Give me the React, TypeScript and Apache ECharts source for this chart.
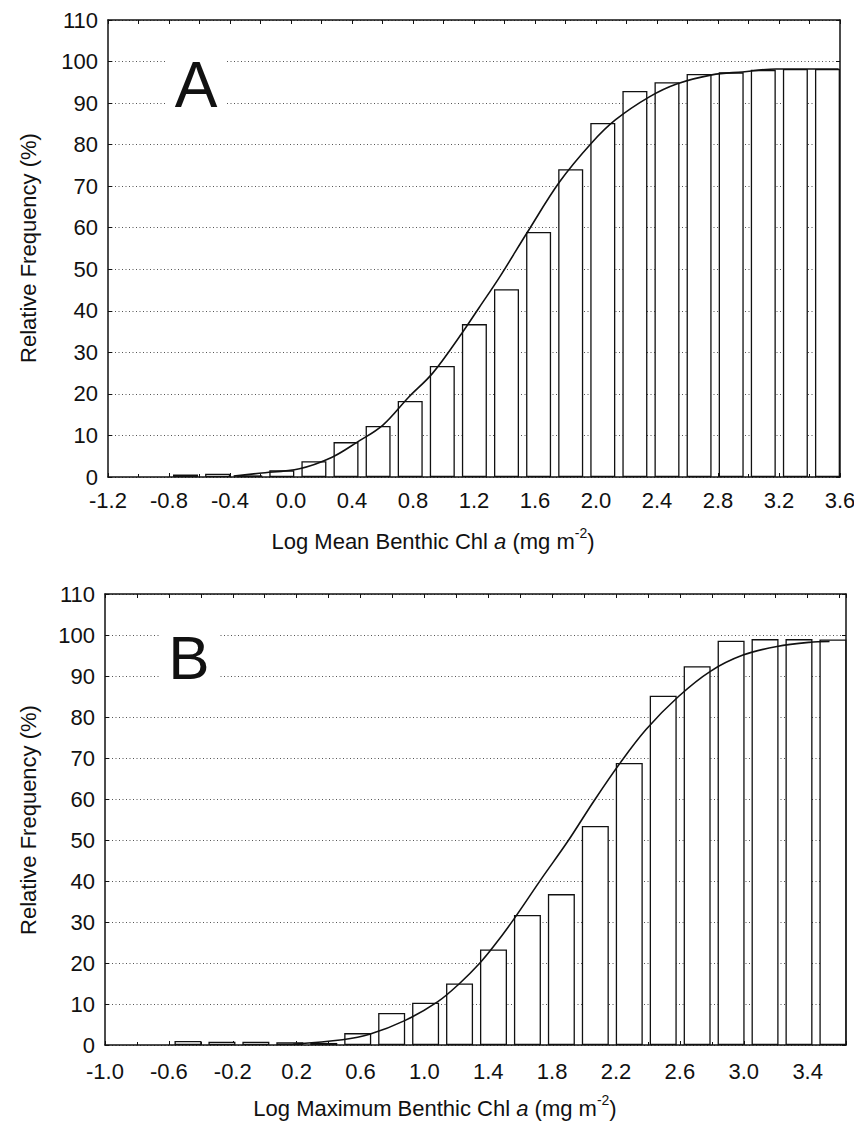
import React, { useEffect, useRef } from "react";
import * as echarts from "echarts";

// ---------- Panel A: Log Mean Benthic Chl a ----------
const meanBins = [-0.6, -0.4, -0.2, 0.0, 0.2, 0.4, 0.6, 0.8, 1.0, 1.2, 1.4, 1.6, 1.8, 2.0, 2.2, 2.4, 2.6, 2.8, 3.0, 3.2, 3.4];
const meanFreq = [0.6, 0.8, 0.4, 1.6, 3.8, 8.4, 12.3, 18.3, 26.7, 36.8, 45.2, 59.0, 74.1, 85.2, 92.9, 95.0, 97.0, 97.4, 98.0, 98.2, 98.2];
const meanCurveX = [-0.3, -0.14, 0.11, 0.31, 0.47, 0.63, 0.79, 0.94, 1.12, 1.23, 1.36, 1.53, 1.73, 1.93, 2.08, 2.29, 2.46, 2.68, 2.87, 3.08, 3.47];
const meanCurveY = [0.2, 0.9, 2.0, 4.7, 8.4, 12.5, 19.2, 25.0, 34.5, 40.8, 48.3, 58.9, 71.0, 80.4, 86.0, 91.5, 94.6, 96.8, 97.5, 98.2, 98.2];

// ---------- Panel B: Log Maximum Benthic Chl a ----------
const maxBins = [-0.4, -0.2, 0.0, 0.2, 0.4, 0.6, 0.8, 1.0, 1.2, 1.4, 1.6, 1.8, 2.0, 2.2, 2.4, 2.6, 2.8, 3.0, 3.2, 3.4];
const maxFreq = [1.0, 0.8, 0.8, 0.7, 0.5, 2.9, 7.8, 10.3, 15.0, 23.3, 31.7, 36.8, 53.4, 68.8, 85.2, 92.4, 98.6, 99.0, 99.0, 98.9];
const maxCurveX = [0.22, 0.51, 0.67, 0.88, 1.07, 1.2, 1.32, 1.4, 1.52, 1.68, 1.84, 1.99, 2.15, 2.3, 2.49, 2.68, 2.87, 3.07, 3.26, 3.38];
const maxCurveY = [0.2, 1.3, 2.6, 6.0, 10.5, 15.0, 20.0, 24.0, 30.7, 40.4, 49.8, 59.4, 69.0, 77.0, 85.0, 91.2, 95.1, 97.2, 98.2, 98.4];

// axis tick settings
const yMin = 0;
const yMax = 110;
const yStep = 10;
const xStep = 0.4;
const axisA = { min: -1.2, max: 3.6 };
const axisB = { min: -1.0, max: 3.64 };
// scale on which the bars/curve are drawn (bars in the print are spaced a bit wider than the tick labels)
const dataAxisA = { min: -1.083, max: 3.478 };
const dataAxisB = { min: -0.889, max: 3.477 };

const FONT = "'Liberation Sans', Arial, Helvetica, sans-serif";
const INK = "#111";

function fmt(v: number) {
  const x = Math.abs(v) < 1e-9 ? 0 : v;
  return x.toFixed(1);
}

function xAxesFor(gridIndex: number, ax: { min: number; max: number }, dax: { min: number; max: number }) {
  return [
    {
      type: "value",
      gridIndex,
      position: "bottom",
      min: ax.min,
      max: ax.max,
      interval: xStep,
      axisLine: { show: true, onZero: false, lineStyle: { color: INK, width: 1.5 } },
      axisTick: { show: true, inside: true, length: 4, lineStyle: { color: INK } },
      minorTick: { show: true, splitNumber: 2, length: 3, lineStyle: { color: INK } },
      splitLine: { show: false },
      axisLabel: {
        show: true,
        formatter: fmt,
        fontFamily: FONT,
        fontSize: 22,
        color: INK,
        margin: gridIndex === 0 ? 12 : 15,
        showMaxLabel: ax.max === 3.6,
        showMinLabel: true,
      },
    },
    {
      type: "value",
      gridIndex,
      position: "bottom",
      min: dax.min,
      max: dax.max,
      show: false,
      axisLine: { show: false, onZero: false },
      splitLine: { show: false },
    },
    {
      type: "value",
      gridIndex,
      position: "top",
      min: ax.min,
      max: ax.max,
      interval: xStep / 2,
      axisLine: { show: true, onZero: false, lineStyle: { color: INK, width: 1.5 } },
      axisTick: { show: true, inside: true, length: 4, lineStyle: { color: INK } },
      splitLine: { show: false },
      axisLabel: { show: false },
    },
  ];
}

function yAxesFor(gridIndex: number) {
  return [
    {
      type: "value",
      gridIndex,
      position: "left",
      min: yMin,
      max: yMax,
      interval: yStep,
      axisLine: { show: true, onZero: false, lineStyle: { color: INK, width: 1.5 } },
      axisTick: { show: true, inside: true, length: 4, lineStyle: { color: INK } },
      splitLine: { show: true, lineStyle: { color: "#555", width: 1, type: [1, 2.5] } },
      axisLabel: { fontFamily: FONT, fontSize: 22, color: INK, margin: 10 },
    },
    {
      type: "value",
      gridIndex,
      position: "right",
      min: yMin,
      max: yMax,
      interval: yStep,
      axisLine: { show: true, onZero: false, lineStyle: { color: INK, width: 1.5 } },
      axisTick: { show: true, inside: true, length: 4, lineStyle: { color: INK } },
      splitLine: { show: false },
      axisLabel: { show: false },
    },
  ];
}

function pairs(xs: number[], ys: number[]) {
  return xs.map((x, i) => [x, ys[i]]);
}

function titleText(x: number, y: number, lead: string) {
  return {
    type: "text",
    x,
    y,
    z: 10,
    style: {
      text: `{n|${lead} Benthic Chl }{i|a}{n| (mg m}{s|-2}{n|)}`,
      align: "center",
      verticalAlign: "middle",
      rich: {
        n: { fontFamily: FONT, fontSize: 22, fill: INK, color: INK, lineHeight: 30 },
        i: { fontFamily: FONT, fontSize: 22, fontStyle: "italic", fill: INK, color: INK, lineHeight: 30 },
        s: { fontFamily: FONT, fontSize: 14, fill: INK, color: INK, lineHeight: 14, verticalAlign: "top" },
      },
    },
  };
}

function yTitle(x: number, y: number) {
  return {
    type: "text",
    x,
    y,
    rotation: Math.PI / 2,
    z: 10,
    style: {
      text: "Relative Frequency (%)",
      fontFamily: FONT,
      fontSize: 22,
      fill: INK,
      align: "center",
      verticalAlign: "middle",
    },
  };
}

export default function App() {
  const ref = useRef<HTMLDivElement>(null);

  useEffect(() => {
    if (!ref.current) return;
    const chart = echarts.init(ref.current, null, { renderer: "svg" });

    const curveStyle = { color: INK, width: 1.6 };
    const barStyle = { color: "#fff", borderColor: INK, borderWidth: 1.3 };

    const option = {
      animation: false,
      backgroundColor: "#fff",
      grid: [
        { left: 108, top: 20, width: 732, height: 457, containLabel: false, outerBoundsMode: "none" },
        { left: 105, top: 594, width: 741, height: 451, containLabel: false, outerBoundsMode: "none" },
      ],
      xAxis: [...xAxesFor(0, axisA, dataAxisA), ...xAxesFor(1, axisB, dataAxisB)],
      yAxis: [...yAxesFor(0), ...yAxesFor(1)],
      series: [
        {
          name: "Mean frequency",
          type: "bar",
          xAxisIndex: 1,
          yAxisIndex: 0,
          barWidth: 25,
          data: pairs(meanBins, meanFreq),
          itemStyle: barStyle,
          z: 3,
        },
        {
          name: "Mean fit",
          type: "line",
          xAxisIndex: 1,
          yAxisIndex: 0,
          smooth: 0.35,
          symbol: "none",
          data: pairs(meanCurveX, meanCurveY),
          lineStyle: curveStyle,
          z: 4,
        },
        {
          name: "Max frequency",
          type: "bar",
          xAxisIndex: 4,
          yAxisIndex: 2,
          barWidth: 27,
          data: pairs(maxBins, maxFreq),
          itemStyle: barStyle,
          z: 3,
        },
        {
          name: "Max fit",
          type: "line",
          xAxisIndex: 4,
          yAxisIndex: 2,
          smooth: 0.35,
          symbol: "none",
          data: pairs(maxCurveX, maxCurveY),
          lineStyle: curveStyle,
          z: 4,
        },
      ],
      graphic: [
        // panel letters with white patches interrupting the grid lines
        { type: "rect", shape: { x: 167, y: 50, width: 60, height: 66 }, style: { fill: "#fff" }, z: 5 },
        {
          type: "text",
          x: 196,
          y: 85,
          z: 6,
          style: { text: "A", fontFamily: FONT, fontSize: 64, fill: INK, align: "center", verticalAlign: "middle" },
        },
        { type: "rect", shape: { x: 160, y: 622, width: 58, height: 66 }, style: { fill: "#fff" }, z: 5 },
        {
          type: "text",
          x: 189,
          y: 657,
          z: 6,
          style: { text: "B", fontFamily: FONT, fontSize: 62, fill: INK, align: "center", verticalAlign: "middle" },
        },
        yTitle(28, 248),
        yTitle(28, 820),
        titleText(433, 541, "Log Mean"),
        titleText(435, 1108, "Log Maximum"),
      ],
    };

    chart.setOption(option as any);
    return () => chart.dispose();
  }, []);

  return (
    <div
      ref={ref}
      style={{ position: "absolute", left: 0, top: 0, width: 854, height: 1133, background: "#fff" }}
    />
  );
}
